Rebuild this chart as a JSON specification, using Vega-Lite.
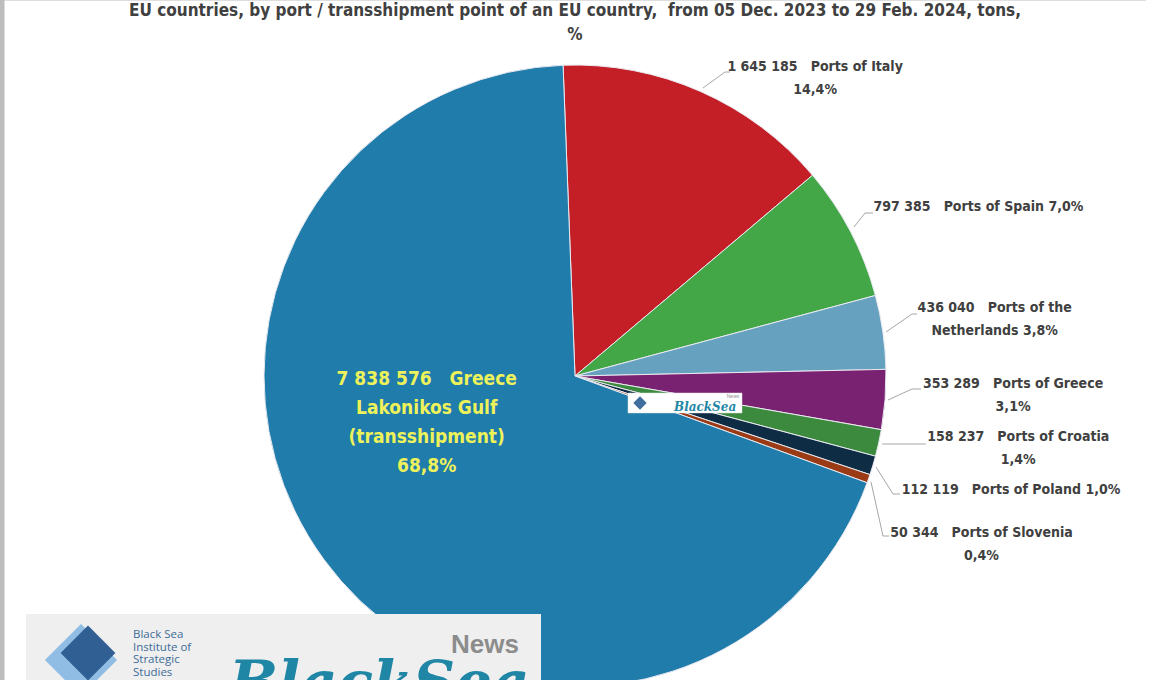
{
  "$schema": "https://vega.github.io/schema/vega-lite/v6.json",
  "width": 1142,
  "height": 752,
  "autosize": {"type": "none"},
  "padding": {"left": 4, "top": 0, "right": 0, "bottom": 0},
  "background": "#bdbdbd",
  "view": {"fill": "white", "stroke": "transparent"},
  "config": {"font": "'DejaVu Sans Condensed', Roboto, sans-serif"},
  "title": {
    "text": ["EU countries, by port / transshipment point of an EU country,\u00a0\u00a0from 05 Dec. 2023 to 29 Feb. 2024, tons,", "%"],
    "font": "'DejaVu Sans Condensed', Roboto, sans-serif",
    "fontSize": 17,
    "fontWeight": "bold",
    "color": "#404040",
    "anchor": "middle",
    "offset": -44,
    "lineHeight": 24
  },
  "data": {
    "values": [
      {"idx": 1, "name": "Ports of Italy", "tons": 1645185, "label": "1 645 185\u00a0\u00a0\u00a0Ports of Italy\n14,4%"},
      {"idx": 2, "name": "Ports of Spain", "tons": 797385, "label": "797 385\u00a0\u00a0\u00a0Ports of Spain 7,0%"},
      {"idx": 3, "name": "Ports of the Netherlands", "tons": 436040, "label": "436 040\u00a0\u00a0\u00a0Ports of the\nNetherlands 3,8%"},
      {"idx": 4, "name": "Ports of Greece", "tons": 353289, "label": "353 289\u00a0\u00a0\u00a0Ports of Greece\n3,1%"},
      {"idx": 5, "name": "Ports of Croatia", "tons": 158237, "label": "158 237\u00a0\u00a0\u00a0Ports of Croatia\n1,4%"},
      {"idx": 6, "name": "Ports of Poland", "tons": 112119, "label": "112 119\u00a0\u00a0\u00a0Ports of Poland 1,0%"},
      {"idx": 7, "name": "Ports of Slovenia", "tons": 50344, "label": "50 344\u00a0\u00a0\u00a0Ports of Slovenia\n0,4%"},
      {"idx": 8, "name": "Greece Lakonikos Gulf (transshipment)", "tons": 7838576, "label": "7 838 576\u00a0\u00a0\u00a0Greece\nLakonikos Gulf\n(transshipment)\n68,8%"}
    ]
  },
  "layer": [
    {
      "encoding": {
        "theta": {"field": "tons", "type": "quantitative", "stack": true, "scale": {"range": [-0.0384, 6.2448]}},
        "order": {"field": "idx", "type": "quantitative"}
      },
      "layer": [
        {
          "mark": {"type": "arc", "outerRadius": 311, "stroke": "#e9e9f0", "strokeWidth": 1},
          "encoding": {
            "color": {
              "field": "name", "type": "nominal", "legend": null,
              "scale": {
                "domain": ["Ports of Italy", "Ports of Spain", "Ports of the Netherlands", "Ports of Greece", "Ports of Croatia", "Ports of Poland", "Ports of Slovenia", "Greece Lakonikos Gulf (transshipment)"],
                "range": ["#c41f27", "#43a647", "#66a2c0", "#7a2272", "#3c8a3e", "#0e2d44", "#9b3b16", "#1f7cab"]
              }
            }
          }
        },
        {
          "mark": {"type": "text", "radius": 330, "dx": 107, "dy": -7, "lineBreak": "\n", "fontSize": 14, "fontWeight": "bold", "color": "#404040", "lineHeight": 23},
          "encoding": {"text": {"condition": {"test": "datum.idx === 1", "field": "label"}, "value": ""}}
        },
        {
          "mark": {"type": "text", "radius": 330, "dx": 111, "dy": -16, "lineBreak": "\n", "fontSize": 14, "fontWeight": "bold", "color": "#404040", "lineHeight": 23},
          "encoding": {"text": {"condition": {"test": "datum.idx === 2", "field": "label"}, "value": ""}}
        },
        {
          "mark": {"type": "text", "radius": 330, "dx": 93, "dy": -21, "lineBreak": "\n", "fontSize": 14, "fontWeight": "bold", "color": "#404040", "lineHeight": 23},
          "encoding": {"text": {"condition": {"test": "datum.idx === 3", "field": "label"}, "value": ""}}
        },
        {
          "mark": {"type": "text", "radius": 330, "dx": 109, "dy": -17, "lineBreak": "\n", "fontSize": 14, "fontWeight": "bold", "color": "#404040", "lineHeight": 23},
          "encoding": {"text": {"condition": {"test": "datum.idx === 4", "field": "label"}, "value": ""}}
        },
        {
          "mark": {"type": "text", "radius": 330, "dx": 121, "dy": -10, "lineBreak": "\n", "fontSize": 14, "fontWeight": "bold", "color": "#404040", "lineHeight": 23},
          "encoding": {"text": {"condition": {"test": "datum.idx === 5", "field": "label"}, "value": ""}}
        },
        {
          "mark": {"type": "text", "radius": 330, "dx": 120, "dy": 19, "lineBreak": "\n", "fontSize": 14, "fontWeight": "bold", "color": "#404040", "lineHeight": 23},
          "encoding": {"text": {"condition": {"test": "datum.idx === 6", "field": "label"}, "value": ""}}
        },
        {
          "mark": {"type": "text", "radius": 330, "dx": 95, "dy": 48, "lineBreak": "\n", "fontSize": 14, "fontWeight": "bold", "color": "#404040", "lineHeight": 23},
          "encoding": {"text": {"condition": {"test": "datum.idx === 7", "field": "label"}, "value": ""}}
        },
        {
          "mark": {"type": "text", "radius": 155, "dx": -23, "dy": -88, "lineBreak": "\n", "fontSize": 19, "fontWeight": "bold", "color": "#eef25a", "lineHeight": 29},
          "encoding": {"text": {"condition": {"test": "datum.idx === 8", "field": "label"}, "value": ""}}
        }
      ]
    },
    {"data": {"values": [{}]}, "mark": {"type": "rule", "color": "#a6a6a6", "strokeWidth": 1}, "encoding": {"x": {"value": 699}, "y": {"value": 88}, "x2": {"value": 721}, "y2": {"value": 72}}},
    {"data": {"values": [{}]}, "mark": {"type": "rule", "color": "#a6a6a6", "strokeWidth": 1}, "encoding": {"x": {"value": 721}, "y": {"value": 72}, "x2": {"value": 726}, "y2": {"value": 72}}},
    {"data": {"values": [{}]}, "mark": {"type": "rule", "color": "#a6a6a6", "strokeWidth": 1}, "encoding": {"x": {"value": 850}, "y": {"value": 227}, "x2": {"value": 861}, "y2": {"value": 213}}},
    {"data": {"values": [{}]}, "mark": {"type": "rule", "color": "#a6a6a6", "strokeWidth": 1}, "encoding": {"x": {"value": 861}, "y": {"value": 213}, "x2": {"value": 869}, "y2": {"value": 213}}},
    {"data": {"values": [{}]}, "mark": {"type": "rule", "color": "#a6a6a6", "strokeWidth": 1}, "encoding": {"x": {"value": 882}, "y": {"value": 332}, "x2": {"value": 908}, "y2": {"value": 314}}},
    {"data": {"values": [{}]}, "mark": {"type": "rule", "color": "#a6a6a6", "strokeWidth": 1}, "encoding": {"x": {"value": 908}, "y": {"value": 314}, "x2": {"value": 913}, "y2": {"value": 314}}},
    {"data": {"values": [{}]}, "mark": {"type": "rule", "color": "#a6a6a6", "strokeWidth": 1}, "encoding": {"x": {"value": 884}, "y": {"value": 400}, "x2": {"value": 908}, "y2": {"value": 389}}},
    {"data": {"values": [{}]}, "mark": {"type": "rule", "color": "#a6a6a6", "strokeWidth": 1}, "encoding": {"x": {"value": 908}, "y": {"value": 389}, "x2": {"value": 917}, "y2": {"value": 389}}},
    {"data": {"values": [{}]}, "mark": {"type": "rule", "color": "#a6a6a6", "strokeWidth": 1}, "encoding": {"x": {"value": 878}, "y": {"value": 444}, "x2": {"value": 922}, "y2": {"value": 444}}},
    {"data": {"values": [{}]}, "mark": {"type": "rule", "color": "#a6a6a6", "strokeWidth": 1}, "encoding": {"x": {"value": 872}, "y": {"value": 467}, "x2": {"value": 889}, "y2": {"value": 494}}},
    {"data": {"values": [{}]}, "mark": {"type": "rule", "color": "#a6a6a6", "strokeWidth": 1}, "encoding": {"x": {"value": 889}, "y": {"value": 494}, "x2": {"value": 896}, "y2": {"value": 494}}},
    {"data": {"values": [{}]}, "mark": {"type": "rule", "color": "#a6a6a6", "strokeWidth": 1}, "encoding": {"x": {"value": 867}, "y": {"value": 482}, "x2": {"value": 879}, "y2": {"value": 536}}},
    {"data": {"values": [{}]}, "mark": {"type": "rule", "color": "#a6a6a6", "strokeWidth": 1}, "encoding": {"x": {"value": 879}, "y": {"value": 536}, "x2": {"value": 885}, "y2": {"value": 536}}},
    {
      "data": {"values": [{}]},
      "mark": {"type": "rect", "x": 22, "x2": 537, "y": 614, "y2": 720, "fill": "#efefef"},
      "encoding": {}
    },
    {
      "data": {"values": [{}]},
      "mark": {"type": "point", "shape": "square", "x": 77, "y": 660, "size": 2600, "angle": 45, "filled": true, "color": "#8fbde3", "opacity": 1},
      "encoding": {}
    },
    {
      "data": {"values": [{}]},
      "mark": {"type": "point", "shape": "square", "x": 84, "y": 653, "size": 1500, "angle": 45, "filled": true, "color": "#2f5f93", "opacity": 1},
      "encoding": {}
    },
    {
      "data": {"values": [{}]},
      "mark": {"type": "text", "x": 129, "y": 635, "align": "left", "baseline": "middle", "text": "Black Sea\nInstitute of\nStrategic\nStudies", "lineBreak": "\n", "font": "Open Sans", "fontSize": 11.5, "lineHeight": 12.7, "color": "#3d6c98"},
      "encoding": {}
    },
    {
      "data": {"values": [{}]},
      "mark": {"type": "text", "x": 481, "y": 645, "align": "center", "baseline": "middle", "text": "News", "font": "Liberation Sans", "fontWeight": "bold", "fontSize": 26, "color": "#8c8c8c"},
      "encoding": {}
    },
    {
      "data": {"values": [{}]},
      "mark": {"type": "text", "x": 225, "y": 702, "align": "left", "baseline": "alphabetic", "text": "BlackSea", "font": "DejaVu Serif", "fontStyle": "italic", "fontWeight": "bold", "fontSize": 58, "color": "#1f86a6"},
      "encoding": {}
    },
    {
      "data": {"values": [{}]},
      "mark": {"type": "rect", "x": 624, "x2": 738, "y": 393, "y2": 413, "fill": "white", "stroke": "#dddddd", "strokeWidth": 0.5},
      "encoding": {}
    },
    {
      "data": {"values": [{}]},
      "mark": {"type": "point", "shape": "square", "x": 636, "y": 403, "size": 90, "angle": 45, "filled": true, "color": "#3f6f9f", "opacity": 1},
      "encoding": {}
    },
    {
      "data": {"values": [{}]},
      "mark": {"type": "text", "x": 670, "y": 411, "align": "left", "baseline": "alphabetic", "text": "BlackSea", "font": "DejaVu Serif", "fontStyle": "italic", "fontWeight": "bold", "fontSize": 12, "color": "#1f86a6"},
      "encoding": {}
    },
    {
      "data": {"values": [{}]},
      "mark": {"type": "text", "x": 729, "y": 396, "align": "center", "baseline": "middle", "text": "News", "font": "Liberation Sans", "fontSize": 5, "color": "#8c8c8c"},
      "encoding": {}
    }
  ]
}
